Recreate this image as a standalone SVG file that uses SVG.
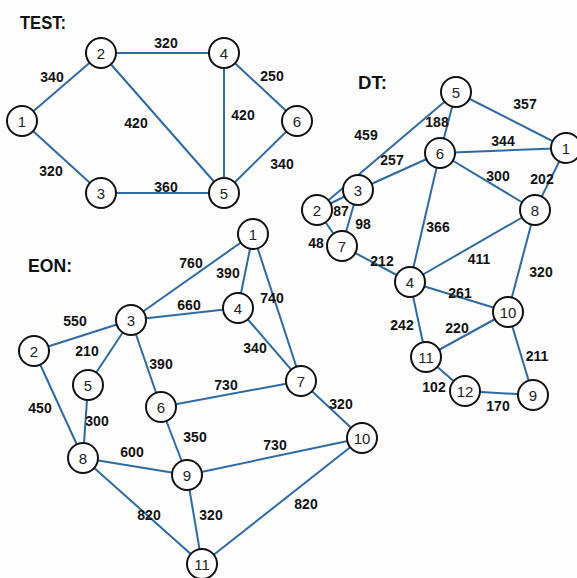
<svg xmlns="http://www.w3.org/2000/svg" width="577" height="578" viewBox="0 0 577 578">
<style>
.e{stroke:#2f6aa3;stroke-width:2;fill:none}
.n circle{fill:#fff;stroke:#111;stroke-width:2}
.n text{font-family:"Liberation Sans",Arial,sans-serif;font-size:15px;fill:#222;text-anchor:middle}
.l{font-family:"Liberation Sans",Arial,sans-serif;font-size:14px;font-weight:bold;fill:#111;text-anchor:middle}
.t{font-family:"Liberation Sans",Arial,sans-serif;font-size:19px;font-weight:bold;fill:#111}
</style>
<rect width="577" height="578" fill="#fdfdfd"/>
<text class="t" x="20" y="29" textLength="46" lengthAdjust="spacingAndGlyphs">TEST:</text>
<text class="t" x="358" y="89" textLength="29" lengthAdjust="spacingAndGlyphs">DT:</text>
<text class="t" x="28" y="272" textLength="44" lengthAdjust="spacingAndGlyphs">EON:</text>
<g id="connectors">
<!-- TEST -->
<line class="e" x1="22" y1="121" x2="101" y2="53"/>
<line class="e" x1="101" y1="53" x2="224" y2="53"/>
<line class="e" x1="101" y1="53" x2="224" y2="193"/>
<line class="e" x1="224" y1="53" x2="224" y2="193"/>
<line class="e" x1="224" y1="53" x2="297" y2="121"/>
<line class="e" x1="22" y1="121" x2="101" y2="193"/>
<line class="e" x1="101" y1="193" x2="224" y2="193"/>
<line class="e" x1="297" y1="121" x2="224" y2="193"/>
<!-- DT -->
<line class="e" x1="456" y1="92" x2="440" y2="153"/>
<line class="e" x1="456" y1="92" x2="566" y2="148"/>
<line class="e" x1="456" y1="92" x2="317" y2="210"/>
<line class="e" x1="440" y1="153" x2="566" y2="148"/>
<line class="e" x1="440" y1="153" x2="358" y2="190"/>
<line class="e" x1="440" y1="153" x2="535" y2="210"/>
<line class="e" x1="440" y1="153" x2="410" y2="282"/>
<line class="e" x1="566" y1="148" x2="535" y2="210"/>
<line class="e" x1="317" y1="210" x2="358" y2="190"/>
<line class="e" x1="317" y1="210" x2="342" y2="246"/>
<line class="e" x1="358" y1="190" x2="342" y2="246"/>
<line class="e" x1="342" y1="246" x2="410" y2="282"/>
<line class="e" x1="535" y1="210" x2="410" y2="282"/>
<line class="e" x1="535" y1="210" x2="508" y2="312"/>
<line class="e" x1="410" y1="282" x2="508" y2="312"/>
<line class="e" x1="410" y1="282" x2="426" y2="357"/>
<line class="e" x1="508" y1="312" x2="426" y2="357"/>
<line class="e" x1="508" y1="312" x2="533" y2="395"/>
<line class="e" x1="426" y1="357" x2="465" y2="391"/>
<line class="e" x1="465" y1="391" x2="533" y2="395"/>
<!-- EON -->
<line class="e" x1="253" y1="234" x2="131" y2="320"/>
<line class="e" x1="253" y1="234" x2="238" y2="308"/>
<line class="e" x1="253" y1="234" x2="301" y2="381"/>
<line class="e" x1="131" y1="320" x2="238" y2="308"/>
<line class="e" x1="131" y1="320" x2="34" y2="351"/>
<line class="e" x1="131" y1="320" x2="88" y2="385"/>
<line class="e" x1="131" y1="320" x2="161" y2="407"/>
<line class="e" x1="238" y1="308" x2="301" y2="381"/>
<line class="e" x1="161" y1="407" x2="301" y2="381"/>
<line class="e" x1="34" y1="351" x2="83" y2="458"/>
<line class="e" x1="88" y1="385" x2="83" y2="458"/>
<line class="e" x1="301" y1="381" x2="362" y2="438"/>
<line class="e" x1="161" y1="407" x2="187" y2="475"/>
<line class="e" x1="83" y1="458" x2="187" y2="475"/>
<line class="e" x1="187" y1="475" x2="362" y2="438"/>
<line class="e" x1="83" y1="458" x2="202" y2="564"/>
<line class="e" x1="187" y1="475" x2="202" y2="564"/>
<line class="e" x1="362" y1="438" x2="202" y2="564"/>
</g>
<g id="labels">
<text class="l" x="52" y="82">340</text>
<text class="l" x="166" y="48">320</text>
<text class="l" x="272" y="81">250</text>
<text class="l" x="136" y="128">420</text>
<text class="l" x="243" y="120">420</text>
<text class="l" x="51" y="176">320</text>
<text class="l" x="166" y="192">360</text>
<text class="l" x="282" y="169">340</text>
<text class="l" x="525" y="109">357</text>
<text class="l" x="437" y="127">188</text>
<text class="l" x="503" y="146">344</text>
<text class="l" x="366" y="140">459</text>
<text class="l" x="392" y="165">257</text>
<text class="l" x="498" y="181">300</text>
<text class="l" x="542" y="184">202</text>
<text class="l" x="341" y="216">87</text>
<text class="l" x="363" y="229">98</text>
<text class="l" x="316" y="248">48</text>
<text class="l" x="438" y="232">366</text>
<text class="l" x="382" y="266">212</text>
<text class="l" x="479" y="264">411</text>
<text class="l" x="541" y="277">320</text>
<text class="l" x="460" y="298">261</text>
<text class="l" x="402" y="330">242</text>
<text class="l" x="457" y="333">220</text>
<text class="l" x="537" y="361">211</text>
<text class="l" x="434" y="392">102</text>
<text class="l" x="498" y="411">170</text>
<text class="l" x="191" y="268">760</text>
<text class="l" x="228" y="278">390</text>
<text class="l" x="272" y="303">740</text>
<text class="l" x="189" y="310">660</text>
<text class="l" x="75" y="326">550</text>
<text class="l" x="87" y="356">210</text>
<text class="l" x="161" y="369">390</text>
<text class="l" x="255" y="353">340</text>
<text class="l" x="226" y="390">730</text>
<text class="l" x="40" y="413">450</text>
<text class="l" x="97" y="426">300</text>
<text class="l" x="341" y="409">320</text>
<text class="l" x="195" y="442">350</text>
<text class="l" x="132" y="457">600</text>
<text class="l" x="275" y="450">730</text>
<text class="l" x="149" y="520">820</text>
<text class="l" x="211" y="520">320</text>
<text class="l" x="306" y="509">820</text>
</g>
<g id="test-1" class="n"><circle cx="22" cy="121" r="15"/><text x="22" y="126.5">1</text></g>
<g id="test-2" class="n"><circle cx="101" cy="53" r="15"/><text x="101" y="58.5">2</text></g>
<g id="test-3" class="n"><circle cx="101" cy="193" r="15"/><text x="101" y="198.5">3</text></g>
<g id="test-4" class="n"><circle cx="224" cy="53" r="15"/><text x="224" y="58.5">4</text></g>
<g id="test-5" class="n"><circle cx="224" cy="193" r="15"/><text x="224" y="198.5">5</text></g>
<g id="test-6" class="n"><circle cx="297" cy="121" r="15"/><text x="297" y="126.5">6</text></g>
<g id="dt-1" class="n"><circle cx="566" cy="148" r="15"/><text x="566" y="153.5">1</text></g>
<g id="dt-2" class="n"><circle cx="317" cy="210" r="15"/><text x="317" y="215.5">2</text></g>
<g id="dt-3" class="n"><circle cx="358" cy="190" r="15"/><text x="358" y="195.5">3</text></g>
<g id="dt-4" class="n"><circle cx="410" cy="282" r="15"/><text x="410" y="287.5">4</text></g>
<g id="dt-5" class="n"><circle cx="456" cy="92" r="15"/><text x="456" y="97.5">5</text></g>
<g id="dt-6" class="n"><circle cx="440" cy="153" r="15"/><text x="440" y="158.5">6</text></g>
<g id="dt-7" class="n"><circle cx="342" cy="246" r="15"/><text x="342" y="251.5">7</text></g>
<g id="dt-8" class="n"><circle cx="535" cy="210" r="15"/><text x="535" y="215.5">8</text></g>
<g id="dt-9" class="n"><circle cx="533" cy="395" r="15"/><text x="533" y="400.5">9</text></g>
<g id="dt-10" class="n"><circle cx="508" cy="312" r="15"/><text x="508" y="317.5">10</text></g>
<g id="dt-11" class="n"><circle cx="426" cy="357" r="15"/><text x="426" y="362.5">11</text></g>
<g id="dt-12" class="n"><circle cx="465" cy="391" r="15"/><text x="465" y="396.5">12</text></g>
<g id="eon-1" class="n"><circle cx="253" cy="234" r="15"/><text x="253" y="239.5">1</text></g>
<g id="eon-2" class="n"><circle cx="34" cy="351" r="15"/><text x="34" y="356.5">2</text></g>
<g id="eon-3" class="n"><circle cx="131" cy="320" r="15"/><text x="131" y="325.5">3</text></g>
<g id="eon-4" class="n"><circle cx="238" cy="308" r="15"/><text x="238" y="313.5">4</text></g>
<g id="eon-5" class="n"><circle cx="88" cy="385" r="15"/><text x="88" y="390.5">5</text></g>
<g id="eon-6" class="n"><circle cx="161" cy="407" r="15"/><text x="161" y="412.5">6</text></g>
<g id="eon-7" class="n"><circle cx="301" cy="381" r="15"/><text x="301" y="386.5">7</text></g>
<g id="eon-8" class="n"><circle cx="83" cy="458" r="15"/><text x="83" y="463.5">8</text></g>
<g id="eon-9" class="n"><circle cx="187" cy="475" r="15"/><text x="187" y="480.5">9</text></g>
<g id="eon-10" class="n"><circle cx="362" cy="438" r="15"/><text x="362" y="443.5">10</text></g>
<g id="eon-11" class="n"><circle cx="202" cy="564" r="15"/><text x="202" y="569.5">11</text></g>
</svg>
